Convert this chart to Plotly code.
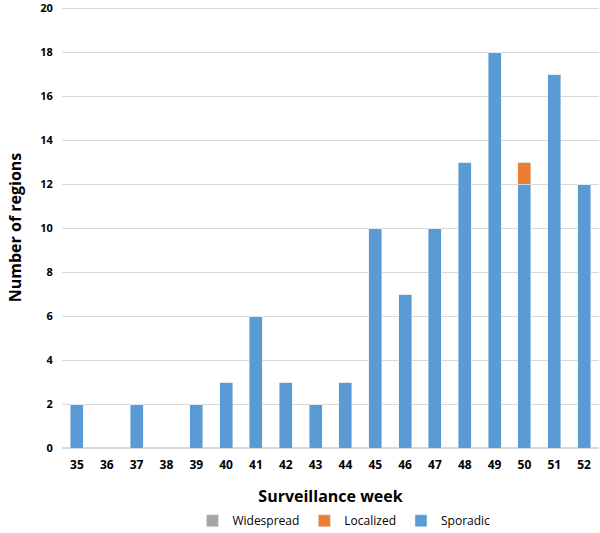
import plotly.graph_objects as go

weeks = ["35","36","37","38","39","40","41","42","43","44","45","46","47","48","49","50","51","52"]
sporadic = [2,0,2,0,2,3,6,3,2,3,10,7,10,13,18,12,17,12]
localized = [0,0,0,0,0,0,0,0,0,0,0,0,0,0,0,1,0,0]
widespread = [0]*18

font_fam = "'Open Sans', Lato, sans-serif"

fig = go.Figure()
fig.add_trace(go.Bar(x=weeks, y=sporadic, name="Sporadic", marker_color="#5B9BD5"))
fig.add_trace(go.Bar(x=weeks, y=localized, name="Localized", marker_color="#ED7D31"))
fig.add_trace(go.Bar(x=weeks, y=widespread, name="Widespread", marker_color="#A5A5A5"))

fig.update_layout(
    width=600, height=533,
    barmode="stack", bargap=0.56,
    plot_bgcolor="white", paper_bgcolor="white",
    margin=dict(l=62, r=1, t=7, b=85, autoexpand=False),
    font=dict(family=font_fam, color="#000000"),
    showlegend=True,
    legend=dict(orientation="h", x=0.525, xanchor="center", y=-0.165, yanchor="middle",
                traceorder="reversed", font=dict(size=12, family=font_fam),
                itemwidth=30),
    xaxis=dict(title=dict(text="<b>Surveillance week</b>", font=dict(size=16), standoff=18),
               tickfont=dict(size=12, weight="bold"),
               showline=True, linecolor="#d9d9d9", ticks="outside", ticklen=6, tickcolor="white",
               type="category"),
    yaxis=dict(title=dict(text="<b>Number of regions</b>", font=dict(size=16), standoff=14),
               range=[0,20.05], tickvals=list(range(0,21,2)), tickfont=dict(size=11, weight="bold"),
               ticklabeloverflow="allow",
               showgrid=True, gridcolor="#d9d9d9", zeroline=True, zerolinecolor="#d9d9d9",
               ticks="outside", ticklen=6, tickcolor="white"),
)
fig.write_html("out.html", config={"displayModeBar": False},
               post_script="document.body.style.margin='0';document.body.style.padding='0';")
